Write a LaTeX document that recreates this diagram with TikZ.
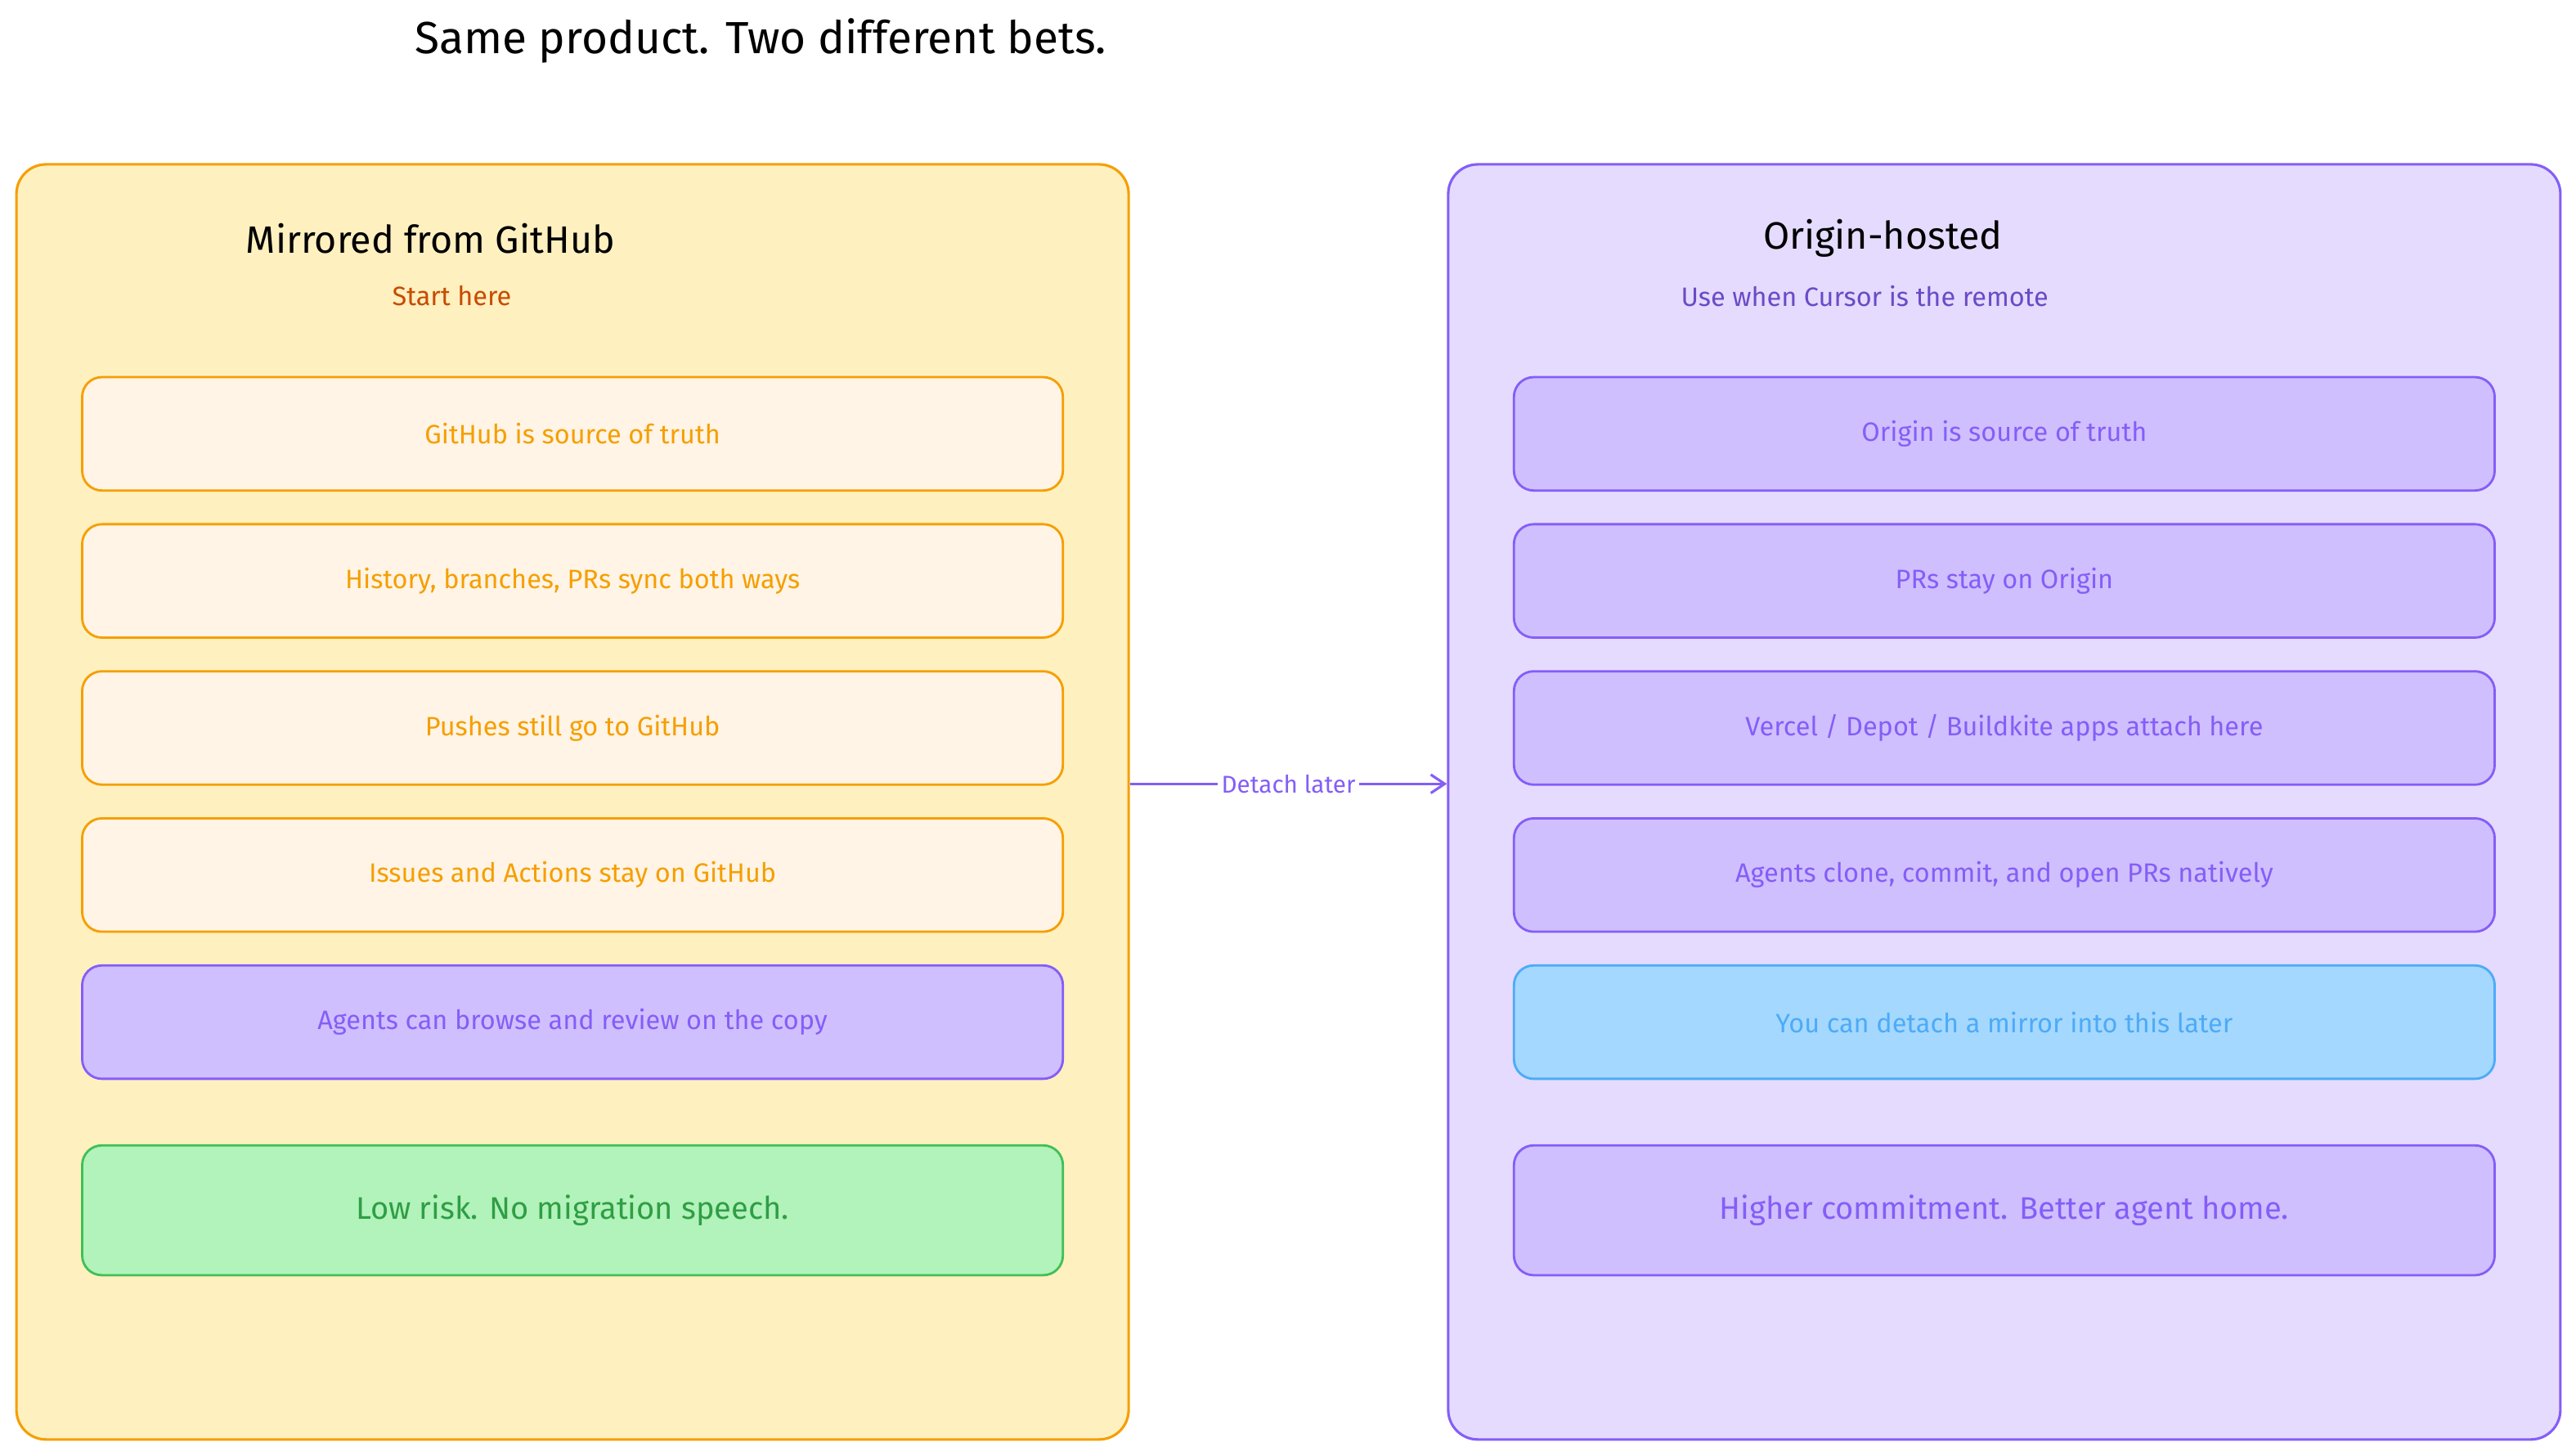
\documentclass[tikz,border=0pt]{standalone}
\usetikzlibrary{arrows.meta}
\usepackage{fontspec}
\setmainfont{Fira Sans}
\begin{document}
\begin{tikzpicture}[x=0.05cm,y=-0.05cm,
  cont/.style={draw,line width=2.2pt,rounded corners=0.9cm,minimum width=33.85cm,minimum height=38.8cm},
  box/.style={draw,line width=2pt,rounded corners=0.6cm,minimum width=29.85cm,minimum height=3.45cm,font=\fontsize{23}{27}\selectfont},
  big/.style={box,minimum height=3.95cm,font=\fontsize{27}{32}\selectfont},
  ora/.style={fill=oraF,draw=oraS,text=oraS},
  pur/.style={fill=purF,draw=purS,text=purS},
  blu/.style={fill=bluF,draw=bluS,text=bluS},
  grn/.style={fill=grnF,draw=grnS,text=grnT},
  head/.style={font=\fontsize{33}{38}\selectfont,text=black},
  sub/.style={font=\fontsize{23}{27}\selectfont}]
\definecolor{oraF}{HTML}{FFF4E6}\definecolor{oraS}{HTML}{F59F00}
\definecolor{purF}{HTML}{D0BFFF}\definecolor{purS}{HTML}{845EF7}
\definecolor{bluF}{HTML}{A5D8FF}\definecolor{bluS}{HTML}{4DABF7}
\definecolor{grnF}{HTML}{B2F2BB}\definecolor{grnS}{HTML}{40C057}\definecolor{grnT}{HTML}{2F9E44}
\definecolor{yelF}{HTML}{FFF0C0}\definecolor{lavF}{HTML}{E5DBFF}
\useasboundingbox[fill=white] (0,0) rectangle (1568,886);
\node[font=\fontsize{39}{45}\selectfont] (title) at (463,25) {Same product. Two different bets.};
\node[cont,fill=yelF,draw=oraS] (L) at (348.5,488) {};
\node[cont,fill=lavF,draw=purS] (R) at (1220,488) {};
\node[head] (lh) at (262,145) {Mirrored from GitHub};
\node[sub,text=oraS!60!red!80!black] (ls) at (275,180) {Start here};
\node[head] (rh) at (1146,145) {Origin-hosted};
\node[sub,text=purS!80!black] (rs) at (1135,180) {Use when Cursor is the remote};
\node[box,ora] (l1) at (348.5,264) {GitHub is source of truth};
\node[box,ora] (l2) at (348.5,353.5) {History, branches, PRs sync both ways};
\node[box,ora] (l3) at (348.5,443) {Pushes still go to GitHub};
\node[box,ora] (l4) at (348.5,532.5) {Issues and Actions stay on GitHub};
\node[box,pur] (l5) at (348.5,622) {Agents can browse and review on the copy};
\node[big,grn] (l6) at (348.5,736.5) {Low risk. No migration speech.};
\node[box,pur] (r1) at (1220,264) {Origin is source of truth};
\node[box,pur] (r2) at (1220,353.5) {PRs stay on Origin};
\node[box,pur] (r3) at (1220,443) {Vercel / Depot / Buildkite apps attach here};
\node[box,pur] (r4) at (1220,532.5) {Agents clone, commit, and open PRs natively};
\node[box,blu] (r5) at (1220,622) {You can detach a mirror into this later};
\node[big,pur] (r6) at (1220,736.5) {Higher commitment. Better agent home.};
\coordinate (a) at (L.east |- 0,477);
\coordinate (b) at (R.west |- 0,477);
\draw[purS,line width=2.2pt,-{Straight Barb[length=12pt,width=16pt]}] (a) -- node[fill=white,inner sep=3pt,text=purS,font=\fontsize{21}{25}\selectfont] (lab) {Detach later} (b);
\end{tikzpicture}
\end{document}
